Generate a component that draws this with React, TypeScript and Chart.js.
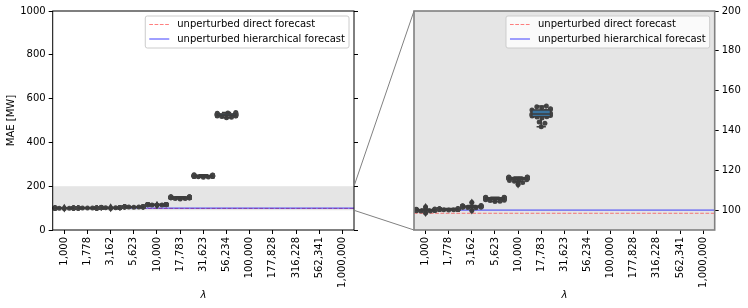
import React, { useEffect, useRef } from 'react';
import { Chart, registerables } from 'chart.js';

Chart.register(...registerables);

// ---------------- data ----------------
const LAMBDA_LABELS = ['1,000', '1,778', '3,162', '5,623', '10,000', '17,783', '31,623', '56,234', '100,000', '177,828', '316,228', '562,341', '1,000,000'];

const MAE_L1000 = [99.6, 99.8, 99.9, 100.0, 100.1, 100.2, 100.0, 99.7, 100.3, 100.4, 99.5, 100.1, 99.9, 100.6, 98.6, 101.5, 100.0, 99.8, 100.2, 100.3];
const MAE_L1778 = [100.2, 100.3, 100.4, 100.5, 100.4, 100.6, 100.3, 100.5, 100.7, 100.1, 100.4, 100.5, 100.6, 100.2, 100.8, 100.3, 100.4, 100.5, 100.6, 100.4];
const MAE_L3162 = [101.5, 101.7, 101.8, 101.9, 102.0, 101.6, 101.8, 102.2, 101.4, 102.3, 101.9, 101.3, 102.1, 103.8, 101.2, 99.8, 101.7, 102.1, 101.8, 101.6];
const MAE_L5623 = [106.3, 106.2, 106.1, 106.4, 106.0, 105.9, 106.3, 105.8, 105.6, 105.4, 105.2, 105.0, 104.8, 104.5, 104.3, 106.2, 106.0, 105.7, 106.4, 105.5];
const MAE_L10000 = [116.5, 116.3, 116.0, 116.6, 116.2, 115.8, 116.4, 115.5, 116.1, 115.9, 115.3, 114.9, 114.5, 113.8, 112.8, 116.6, 116.4, 115.7, 116.0, 116.3];
const MAE_L17783 = [141.9, 143.6, 144.2, 146.3, 146.7, 146.9, 147.2, 147.5, 147.8, 148.0, 148.3, 148.6, 148.9, 149.3, 149.8, 150.3, 150.6, 150.9, 151.4, 151.9, 152.3];
const MAE_L31623 = [240.5, 242, 243, 244, 244.5, 245, 245.5, 246, 246, 246.5, 247, 247, 247.5, 248, 248.5, 249, 249.5, 250, 251, 252];
const MAE_L56234 = [512, 515, 518, 520, 521, 522, 523, 524, 525, 525, 526, 527, 528, 529, 530, 531, 532, 533, 534, 536];
const MAE_L100000: number[] = [];
const MAE_L177828: number[] = [];
const MAE_L316228: number[] = [];
const MAE_L562341: number[] = [];
const MAE_L1000000: number[] = [];

const MAE_BY_LAMBDA = [MAE_L1000, MAE_L1778, MAE_L3162, MAE_L5623, MAE_L10000, MAE_L17783, MAE_L31623, MAE_L56234, MAE_L100000, MAE_L177828, MAE_L316228, MAE_L562341, MAE_L1000000];

const DIRECT_FORECAST_MAE = 98.4;
const HIERARCHICAL_FORECAST_MAE = 100.0;

const LEFT_Y_TICKS = [0, 200, 400, 600, 800, 1000];
const RIGHT_Y_TICKS = [100, 120, 140, 160, 180, 200];
const ZOOM_MIN = 90;
const ZOOM_MAX = 200;

// ---------------- helpers ----------------
const FONT = "'DejaVu Sans', sans-serif";
Chart.defaults.font.family = FONT;
Chart.defaults.font.size = 10;
Chart.defaults.color = '#000';

function quantile(s: number[], q: number) {
  const pos = (s.length - 1) * q;
  const lo = Math.floor(pos);
  const hi = Math.ceil(pos);
  return s[lo] + (s[hi] - s[lo]) * (pos - lo);
}

function boxStats(vals: number[]) {
  const s = [...vals].sort((a, b) => a - b);
  const q1 = quantile(s, 0.25);
  const med = quantile(s, 0.5);
  const q3 = quantile(s, 0.75);
  const iqr = q3 - q1;
  const lf = q1 - 1.5 * iqr;
  const uf = q3 + 1.5 * iqr;
  const inl = s.filter((v) => v >= lf && v <= uf);
  return { q1, med, q3, lo: inl[0], hi: inl[inl.length - 1], fliers: s.filter((v) => v < lf || v > uf) };
}

function swarmOffsets(ys: number[], vals: number[], d: number, halfW: number) {
  const order = vals.map((_, i) => i).sort((a, b) => vals[a] - vals[b]);
  const placed: { x: number; y: number }[] = [];
  const res = new Array(ys.length).fill(0);
  for (const i of order) {
    const y = ys[i];
    const near = placed.filter((p) => Math.abs(p.y - y) < d);
    const cands = [0];
    for (const p of near) {
      const dx = Math.sqrt(d * d - (p.y - y) * (p.y - y));
      cands.push(p.x + dx, p.x - dx);
    }
    cands.sort((a, b) => Math.abs(a) - Math.abs(b));
    let x = cands[cands.length - 1];
    for (const c of cands) {
      if (near.every((p) => (p.x - c) ** 2 + (p.y - y) ** 2 >= d * d - 1e-6)) {
        x = c;
        break;
      }
    }
    placed.push({ x, y });
    res[i] = Math.max(-halfW, Math.min(halfW, x));
  }
  return res;
}

const POINT_COLOR = '#444444';
const LINE_GRAY = '#3d3d3d';
const BOX_FILL = '#3a74a0';

function makePanelPlugin(kind: 'main' | 'zoom') {
  return {
    id: 'maePanel_' + kind,
    beforeDatasetsDraw(chart: any) {
      const { ctx, chartArea: ca, scales } = chart;
      ctx.save();
      ctx.fillStyle = '#e5e5e5';
      if (kind === 'main') {
        const y1 = scales.y.getPixelForValue(ZOOM_MAX);
        const y2 = scales.y.getPixelForValue(ZOOM_MIN);
        ctx.fillRect(ca.left, y1, ca.right - ca.left, y2 - y1);
      } else {
        ctx.fillRect(ca.left, ca.top, ca.right - ca.left, ca.bottom - ca.top);
      }
      ctx.restore();
    },
    afterDatasetsDraw(chart: any) {
      const { ctx, chartArea: ca, scales } = chart;
      const xs = scales.x;
      const ysc = scales.y;
      const catW = Math.abs(xs.getPixelForValue(1) - xs.getPixelForValue(0));
      ctx.save();
      ctx.beginPath();
      ctx.rect(ca.left, ca.top, ca.right - ca.left, ca.bottom - ca.top);
      ctx.clip();
      MAE_BY_LAMBDA.forEach((vals, i) => {
        if (!vals.length) return;
        const cx = xs.getPixelForValue(i);
        // swarm
        const py = vals.map((v) => ysc.getPixelForValue(v));
        const off = swarmOffsets(py, vals, 5, 0.4 * catW);
        ctx.fillStyle = POINT_COLOR;
        py.forEach((y, k) => {
          ctx.beginPath();
          ctx.arc(cx + off[k], y, 2.5, 0, Math.PI * 2);
          ctx.fill();
        });
        // box
        const st = boxStats(vals);
        const bw = 0.8 * catW;
        const yq1 = ysc.getPixelForValue(st.q1);
        const yq3 = ysc.getPixelForValue(st.q3);
        const ylo = ysc.getPixelForValue(st.lo);
        const yhi = ysc.getPixelForValue(st.hi);
        const ymed = ysc.getPixelForValue(st.med);
        ctx.strokeStyle = LINE_GRAY;
        ctx.lineWidth = 1.5;
        ctx.beginPath();
        ctx.moveTo(cx, yq3);
        ctx.lineTo(cx, yhi);
        ctx.moveTo(cx - bw / 4, yhi);
        ctx.lineTo(cx + bw / 4, yhi);
        ctx.moveTo(cx, yq1);
        ctx.lineTo(cx, ylo);
        ctx.moveTo(cx - bw / 4, ylo);
        ctx.lineTo(cx + bw / 4, ylo);
        ctx.stroke();
        ctx.fillStyle = BOX_FILL;
        ctx.fillRect(cx - bw / 2, yq3, bw, yq1 - yq3);
        ctx.strokeRect(cx - bw / 2, yq3, bw, yq1 - yq3);
        ctx.beginPath();
        ctx.moveTo(cx - bw / 2, ymed);
        ctx.lineTo(cx + bw / 2, ymed);
        ctx.stroke();
        // fliers (thin diamonds)
        ctx.fillStyle = LINE_GRAY;
        st.fliers.forEach((v) => {
          const y = ysc.getPixelForValue(v);
          ctx.beginPath();
          ctx.moveTo(cx, y - 4);
          ctx.lineTo(cx + 2.5, y);
          ctx.lineTo(cx, y + 4);
          ctx.lineTo(cx - 2.5, y);
          ctx.closePath();
          ctx.fill();
        });
      });
      ctx.restore();
    },
    afterDraw(chart: any) {
      const { ctx, chartArea: ca } = chart;
      ctx.save();
      // spines
      if (kind === 'main') {
        ctx.strokeStyle = '#000';
        ctx.lineWidth = 1;
      } else {
        ctx.strokeStyle = '#808080';
        ctx.lineWidth = 1.6;
      }
      ctx.strokeRect(ca.left, ca.top, ca.right - ca.left, ca.bottom - ca.top);
      // legend
      ctx.font = '10px ' + FONT;
      const items = chart.data.datasets.filter((d: any) => d.label);
      const textW = Math.max(...items.map((d: any) => ctx.measureText(d.label).width));
      const w = 4 + 20 + 8 + textW + 4;
      const h = 32;
      const x = ca.right - 5 - w;
      const y = ca.top + 5;
      ctx.beginPath();
      (ctx as any).roundRect(x, y, w, h, 2);
      ctx.fillStyle = 'rgba(255,255,255,0.8)';
      ctx.fill();
      ctx.strokeStyle = '#cccccc';
      ctx.lineWidth = 1;
      ctx.stroke();
      items.forEach((d: any, i: number) => {
        const cy = y + 8.5 + i * 14.5;
        ctx.strokeStyle = d.borderColor;
        ctx.lineWidth = d.borderWidth;
        ctx.setLineDash(d.borderDash || []);
        ctx.beginPath();
        ctx.moveTo(x + 4, cy);
        ctx.lineTo(x + 24, cy);
        ctx.stroke();
        ctx.setLineDash([]);
        ctx.fillStyle = '#000';
        ctx.textBaseline = 'middle';
        ctx.textAlign = 'left';
        ctx.fillText(d.label, x + 32, cy);
      });
      ctx.restore();
    },
  };
}

function lineDatasets() {
  return [
    {
      type: 'line',
      label: 'unperturbed direct forecast',
      data: [
        { x: -0.5, y: DIRECT_FORECAST_MAE },
        { x: LAMBDA_LABELS.length - 0.5, y: DIRECT_FORECAST_MAE },
      ],
      borderColor: 'rgba(255,0,0,0.5)',
      borderDash: [3.7, 1.6],
      borderWidth: 1,
      pointRadius: 0,
      order: 2,
    },
    {
      type: 'line',
      label: 'unperturbed hierarchical forecast',
      data: [
        { x: -0.5, y: HIERARCHICAL_FORECAST_MAE },
        { x: LAMBDA_LABELS.length - 0.5, y: HIERARCHICAL_FORECAST_MAE },
      ],
      borderColor: 'rgba(0,0,255,0.75)',
      borderWidth: 1,
      pointRadius: 0,
      order: 1,
    },
  ];
}

function xScale() {
  return {
    type: 'linear',
    min: -0.5,
    max: LAMBDA_LABELS.length - 0.5,
    afterBuildTicks: (a: any) => {
      a.ticks = LAMBDA_LABELS.map((_, i) => ({ value: i }));
    },
    ticks: {
      callback: (v: any) => LAMBDA_LABELS[Math.round(Number(v))],
      minRotation: 90,
      maxRotation: 90,
      autoSkip: false,
      padding: 3,
      color: '#000',
      font: { size: 10, family: FONT },
    },
    grid: { drawOnChartArea: false, drawTicks: true, tickLength: 4, color: '#000', tickColor: '#000' },
    border: { display: false },
    title: { display: true, text: 'λ', color: '#000', font: { size: 10, style: 'italic', family: FONT }, padding: { top: 0, bottom: 7 } },
    afterFit: (s: any) => {
      s.height = 78;
    },
  };
}

const RIGHT_OFFSET = 374;

export default function App() {
  const leftRef = useRef<HTMLCanvasElement>(null);
  const rightRef = useRef<HTMLCanvasElement>(null);
  const overlayRef = useRef<HTMLCanvasElement>(null);

  useEffect(() => {
    const left = new Chart(leftRef.current as HTMLCanvasElement, {
      type: 'line',
      data: { datasets: lineDatasets() as any },
      options: {
        responsive: false,
        animation: false,
        devicePixelRatio: 1,
        layout: { padding: { top: 11, left: 0, right: 0, bottom: 0 } },
        plugins: { legend: { display: false }, tooltip: { enabled: false } },
        scales: {
          x: xScale() as any,
          y: {
            type: 'linear',
            min: 0,
            max: 1000,
            afterBuildTicks: (a: any) => {
              a.ticks = LEFT_Y_TICKS.map((v) => ({ value: v }));
            },
            ticks: { padding: 3, color: '#000', font: { size: 10, family: FONT }, callback: (v: any) => String(v) },
            grid: { drawOnChartArea: false, drawTicks: true, tickLength: 4, color: '#000', tickColor: '#000' },
            border: { display: false },
            title: { display: true, text: 'MAE [MW]', color: '#000', font: { size: 10, family: FONT }, padding: { top: 5, bottom: 0 } },
            afterFit: (s: any) => {
              s.width = 52.7;
            },
          },
          yr: {
            type: 'linear',
            position: 'right',
            min: 0,
            max: 1000,
            afterBuildTicks: (a: any) => {
              a.ticks = LEFT_Y_TICKS.map((v) => ({ value: v }));
            },
            ticks: { display: false },
            grid: { drawOnChartArea: false, drawTicks: true, tickLength: 4, color: '#000', tickColor: '#000' },
            border: { display: false },
            afterFit: (s: any) => {
              s.width = 20;
            },
          },
        } as any,
      },
      plugins: [makePanelPlugin('main')],
    });

    const right = new Chart(rightRef.current as HTMLCanvasElement, {
      type: 'line',
      data: { datasets: lineDatasets() as any },
      options: {
        responsive: false,
        animation: false,
        devicePixelRatio: 1,
        layout: { padding: { top: 11, left: 40, right: 0, bottom: 0 } },
        plugins: { legend: { display: false }, tooltip: { enabled: false } },
        scales: {
          x: xScale() as any,
          y: {
            type: 'linear',
            position: 'right',
            min: ZOOM_MIN,
            max: ZOOM_MAX,
            afterBuildTicks: (a: any) => {
              a.ticks = RIGHT_Y_TICKS.map((v) => ({ value: v }));
            },
            ticks: { padding: 3, color: '#000', font: { size: 10, family: FONT }, callback: (v: any) => String(v) },
            grid: { drawOnChartArea: false, drawTicks: true, tickLength: 4, color: '#000', tickColor: '#000' },
            border: { display: false },
            afterFit: (s: any) => {
              s.width = 33.3;
            },
          },
        } as any,
      },
      plugins: [makePanelPlugin('zoom')],
    });

    const oc = overlayRef.current?.getContext('2d');
    if (oc) {
      oc.clearRect(0, 0, 748, 308);
      const la = left.chartArea;
      const ra = right.chartArea;
      const ly = left.scales.y;
      const ry = right.scales.y;
      oc.strokeStyle = '#808080';
      oc.lineWidth = 1;
      oc.beginPath();
      oc.moveTo(la.right, ly.getPixelForValue(ZOOM_MAX));
      oc.lineTo(RIGHT_OFFSET + ra.left, ry.getPixelForValue(ZOOM_MAX));
      oc.moveTo(la.right, ly.getPixelForValue(ZOOM_MIN));
      oc.lineTo(RIGHT_OFFSET + ra.left, ry.getPixelForValue(ZOOM_MIN));
      oc.stroke();
    }

    return () => {
      left.destroy();
      right.destroy();
    };
  }, []);

  return (
    <div style={{ position: 'fixed', left: 0, top: 0, width: 748, height: 308, background: '#fff' }}>
      <canvas ref={leftRef} width={374} height={308} style={{ position: 'absolute', left: 0, top: 0, width: 374, height: 308 }} />
      <canvas ref={rightRef} width={374} height={308} style={{ position: 'absolute', left: RIGHT_OFFSET, top: 0, width: 374, height: 308 }} />
      <canvas ref={overlayRef} width={748} height={308} style={{ position: 'absolute', left: 0, top: 0, width: 748, height: 308, pointerEvents: 'none' }} />
    </div>
  );
}
